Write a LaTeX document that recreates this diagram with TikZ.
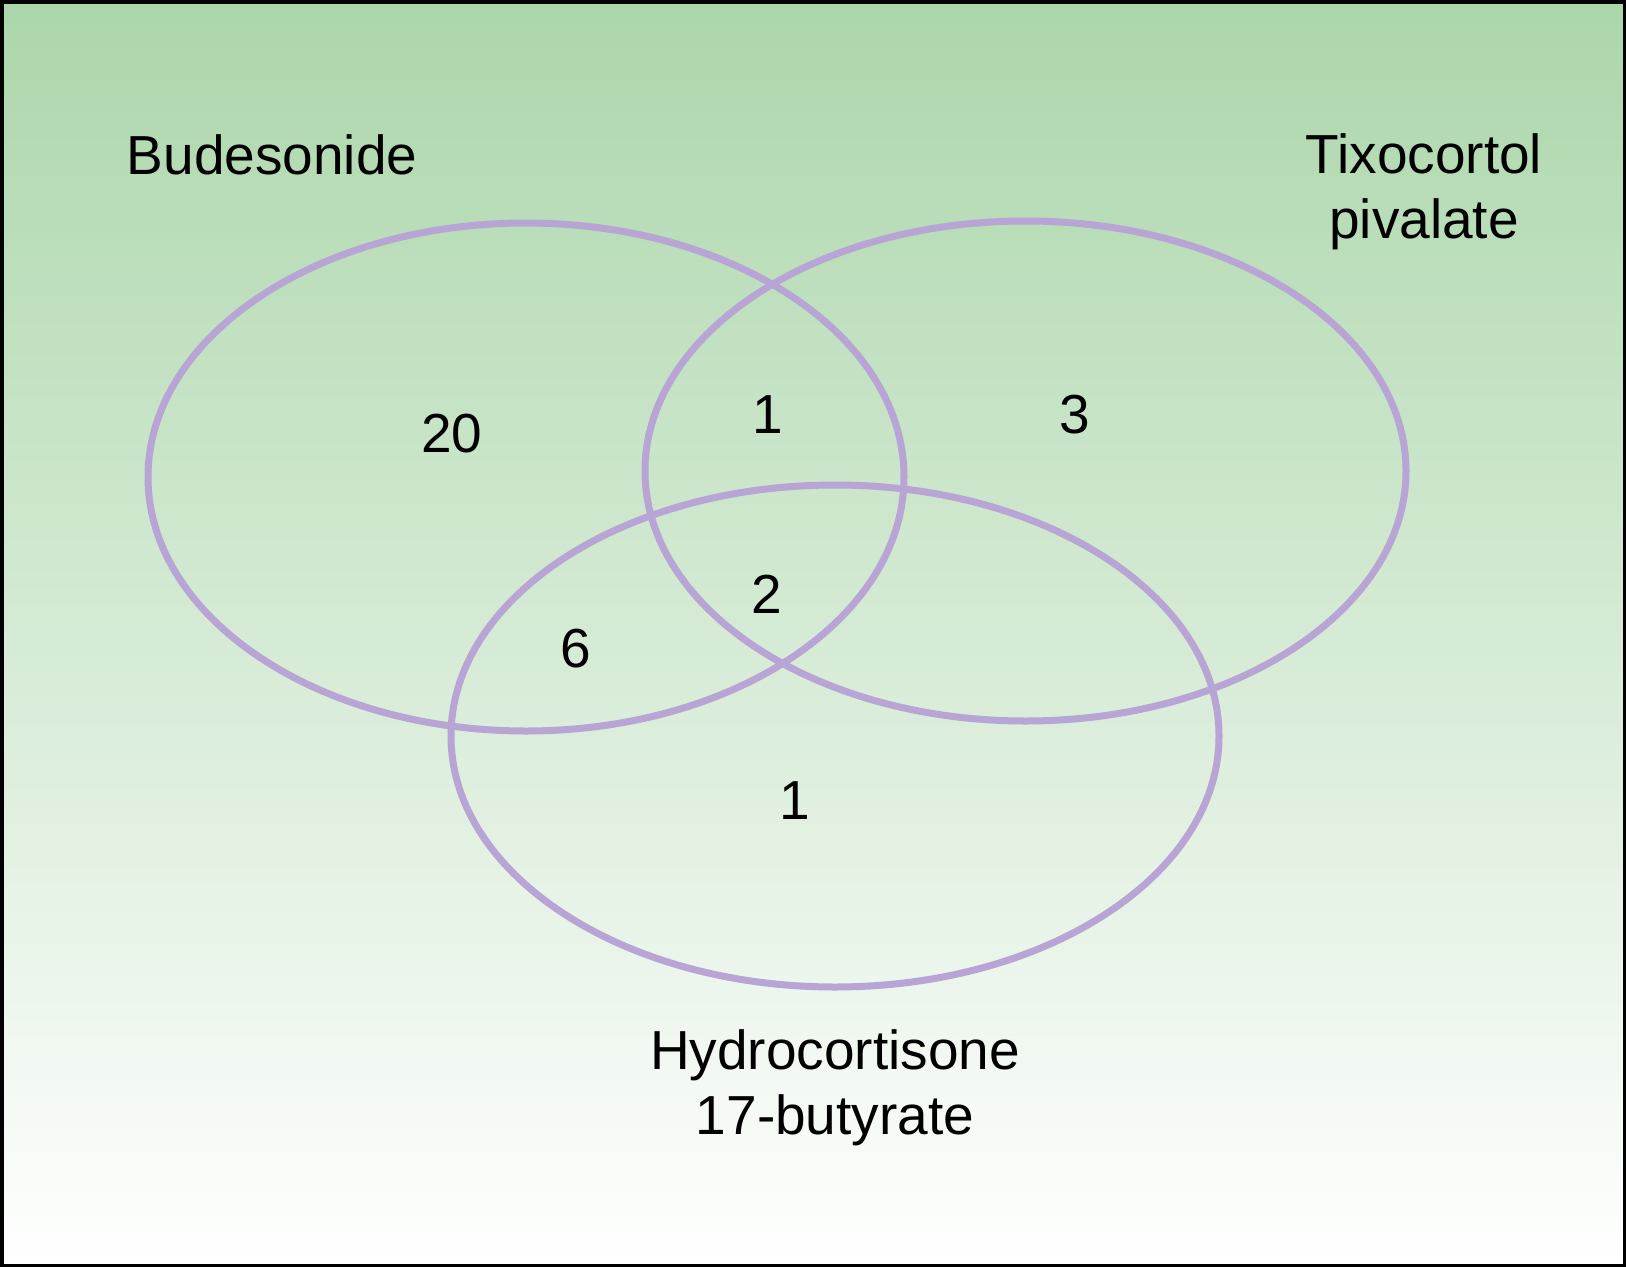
\documentclass[tikz,border=0pt]{standalone}
\usepackage{fontspec}
\setmainfont{Liberation Sans}
\usepackage{xcolor}
\usetikzlibrary{positioning}
\definecolor{cLeaf}{HTML}{ABD6AA}
\definecolor{cLilac}{HTML}{B8A4D5}
\definecolor{cInk}{HTML}{000000}
\tikzset{
  ring/.style={draw=cLilac, line width=7pt},
  title/.style={align=center, inner sep=0pt, text=cInk, font=\fontsize{55}{65}\selectfont},
  count/.style={anchor=base, inner sep=0pt, text=cInk, font=\fontsize{55}{65}\selectfont},
}

\begin{document}
\begin{tikzpicture}[x=1pt, y=-1pt]
\useasboundingbox (0,0) rectangle (1626,1267);
% background and frame
\shade[top color=cLeaf, bottom color=white] (0,0) rectangle (1626,1267);
\draw[cInk, line width=3.5pt] (1.75,1.75) rectangle (1624.25,1265.25);
% the three sets
\draw[ring] (526,477) ellipse [x radius=378pt, y radius=254pt];
\draw[ring] (1025.5,471) ellipse [x radius=380.5pt, y radius=250pt];
\draw[ring] (835,736) ellipse [x radius=384pt, y radius=251pt];
% set names
\node[title] (bud) at (272,155) {Budesonide};
\node[title] (tix) at (1424,191.5) {Tixocortol\\pivalate};
\node[title] (hyd) at (835,1088) {Hydrocortisone\\17-butyrate};
% counts per region
\node[count] (nB) at (452,452) {20};
\node[count] (nBT) at (768,433) {1};
\node[count] (nT) at (1075,433) {3};
\node[count] (nBTH) at (767,613) {2};
\node[count] (nBH) at (576,667) {6};
\node[count] (nH) at (795,819) {1};
\end{tikzpicture}
\end{document}
